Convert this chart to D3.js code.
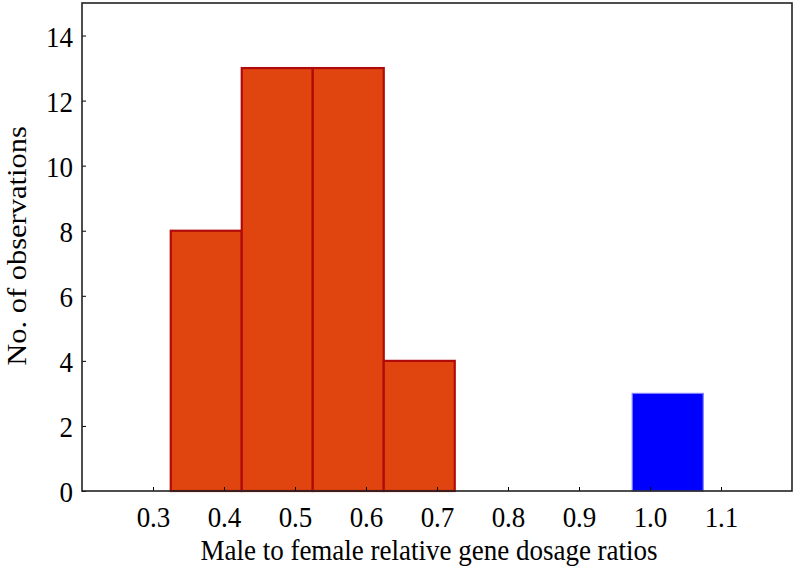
<!DOCTYPE html>
<html><head><meta charset="utf-8">
<script src="https://cdn.jsdelivr.net/npm/d3@7/dist/d3.min.js"></script>
<style>body{margin:0;background:#fff}text{font-family:"Liberation Serif","Times New Roman",serif;fill:#000}</style>
</head><body><svg id="c" width="795" height="580"></svg>
<script>
const binStarts = [0.325, 0.425, 0.525, 0.625, 0.975];
const binWidth = 0.1;
const counts = [8, 13, 13, 4, 3];
const groups = ["female-biased", "female-biased", "female-biased", "female-biased", "balanced"];
const xTicks = [0.3, 0.4, 0.5, 0.6, 0.7, 0.8, 0.9, 1.0, 1.1];
const yTicks = [0, 2, 4, 6, 8, 10, 12, 14];

const svg = d3.select("#c");
const L = 82, R = 792, T = 3, B = 491;
const SY = 1.13;
const x = d3.scaleLinear().domain([0.2, 1.2]).range([L, R]);
const y = d3.scaleLinear().domain([0, 15]).range([B, T]);
const fill = {"female-biased": "#E0440F", "balanced": "#0000FF"};
const stroke = {"female-biased": "#B00A0A", "balanced": "#7F7FFF"};

const data = binStarts.map((s, i) => ({s, c: counts[i], g: groups[i]}));
svg.selectAll("rect.bar").data(data).enter().append("rect")
  .attr("class", "bar")
  .attr("x", d => x(d.s)).attr("width", d => x(d.s + binWidth) - x(d.s))
  .attr("y", d => y(d.c)).attr("height", d => y(0) - y(d.c))
  .attr("fill", d => fill[d.g]).attr("stroke", d => stroke[d.g]).attr("stroke-width", d => d.g === "balanced" ? 1.2 : 2.2);

const xa = svg.append("g").attr("transform", `translate(0,${B})`)
  .call(d3.axisBottom(x).tickValues(xTicks).tickFormat(d3.format(".1f")).tickSizeInner(-4).tickSizeOuter(0));
const ya = svg.append("g").attr("transform", `translate(${L},0)`)
  .call(d3.axisLeft(y).tickValues(yTicks).tickSizeInner(-4).tickSizeOuter(0).tickPadding(9));
[xa, ya].forEach(a => {
  a.select(".domain").remove();
  a.selectAll("line").attr("stroke", "#000").attr("stroke-width", 1);
  a.selectAll("text").style("font-size", "27px").style("font-family", '"Liberation Serif",serif');
});
xa.selectAll("text").attr("y", 32.0).attr("dy", 0).attr("transform", `scale(1,${SY})`);
ya.selectAll("text").attr("dy", "0.35em").attr("transform", `scale(1,${SY})`);

svg.append("rect").attr("x", L).attr("y", T).attr("width", R - L).attr("height", B - T)
  .attr("fill", "none").attr("stroke", "#222").attr("stroke-width", 1.6);

svg.append("text").attr("transform", `translate(429,560) scale(1,${SY})`).attr("text-anchor", "middle")
  .style("font-size", "27px").text("Male to female relative gene dosage ratios");
svg.append("text").attr("transform", `translate(26,246) scale(1,${SY}) rotate(-90)`).attr("text-anchor", "middle")
  .style("font-size", "27px").text("No. of observations");
</script></body></html>
